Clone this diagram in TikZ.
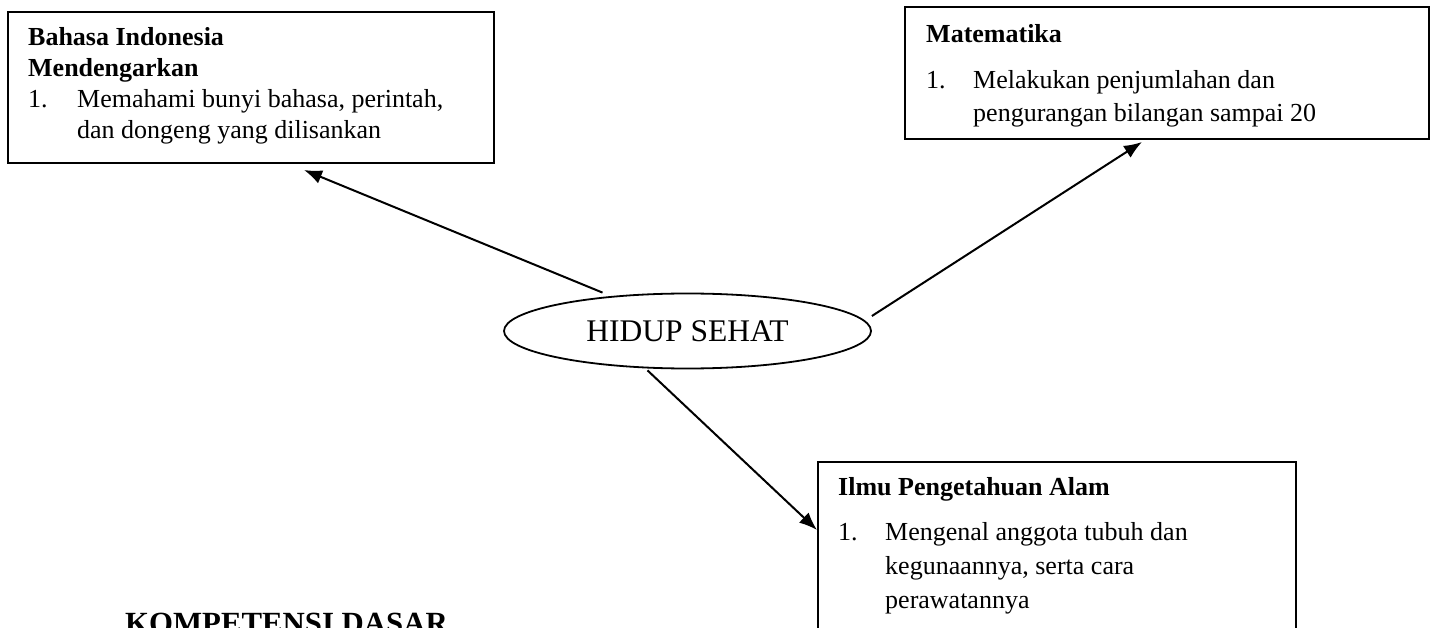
\documentclass[tikz,border=0pt]{standalone}
\usepackage{fontspec}
\setmainfont{Liberation Serif}
\usetikzlibrary{shapes.geometric,arrows.meta,positioning}
\tikzset{
kdbox/.style={
  rectangle,
  draw=black,
  line width=2pt,
  inner sep=0pt,
  anchor=north west
  },
kdtext/.style={
  anchor=north west,
  inner sep=0pt,
  align=left,
  font=\fontsize{26}{31}\selectfont
  }
}
\tikzset{
  tema/.style={ellipse, draw=black, line width=1.8pt, inner sep=0pt,
    minimum width=367pt, minimum height=75pt,
    font=\fontsize{31.5}{36}\selectfont},
  panah/.style={line width=2pt, -{Latex[length=18pt,width=14pt]}}
}
\newcommand{\nomor}[1]{\makebox[47pt][l]{#1}}

\begin{document}
\begin{tikzpicture}[x=1pt,y=-1pt]
\useasboundingbox (0,0) rectangle (1433,628);

\node[tema] (hidup) at (687.5,331) {HIDUP SEHAT};

% kotak kompetensi
\node[kdbox,minimum width=486pt,minimum height=151pt] (bi) at (7,11) {};
\node[kdbox,minimum width=524pt,minimum height=132pt] (mat) at (904,6) {};
\node[kdbox,minimum width=478pt,minimum height=200pt] (ipa) at (817,461) {};

\node[kdtext] (bi-isi) at (28,23.3)
{\strut\textbf{Bahasa Indonesia}\\
 \strut\textbf{Mendengarkan}\\
 \strut\makebox[49pt][l]{1.}Memahami bunyi bahasa, perintah,\\
 \strut\makebox[49pt][l]{}dan dongeng yang dilisankan};

\node[kdtext] (mat-isi) at (926,20.3)
{\strut\textbf{Matematika}\\[15pt]
 \strut\nomor{1.}Melakukan penjumlahan dan\\[2pt]
 \strut\nomor{}pengurangan bilangan sampai 20};

\node[kdtext] (ipa-isi) at (838,473.3)
{\strut\textbf{Ilmu Pengetahuan Alam}\\[14pt]
 \strut\nomor{1.}Mengenal anggota tubuh dan\\[3pt]
 \strut\nomor{}kegunaannya, serta cara\\[3pt]
 \strut\nomor{}perawatannya};

\node[anchor=base west,inner sep=0pt,font=\fontsize{30.8}{36}\selectfont\bfseries]
  (kd) at (125,633) {KOMPETENSI DASAR};

\begin{scope}
\coordinate (hidup-bi) at ([xshift=-85pt]hidup.north);
\coordinate (hidup-mat) at ([yshift=15pt]hidup.east);
\coordinate (hidup-ipa) at ([xshift=-40pt,yshift=-1pt]hidup.south);

\coordinate (bi-in) at ([xshift=53pt,yshift=-6pt]bi.south);
\coordinate (mat-in) at ([xshift=-25pt,yshift=-2pt]mat.south);
\coordinate (ipa-in) at ([yshift=-69pt]ipa.north west);

\draw[panah] (hidup-bi) -- (bi-in);
\draw[panah] (hidup-mat) -- (mat-in);
\draw[panah] (hidup-ipa) -- (ipa-in);
\end{scope}

\end{tikzpicture}
\end{document}
